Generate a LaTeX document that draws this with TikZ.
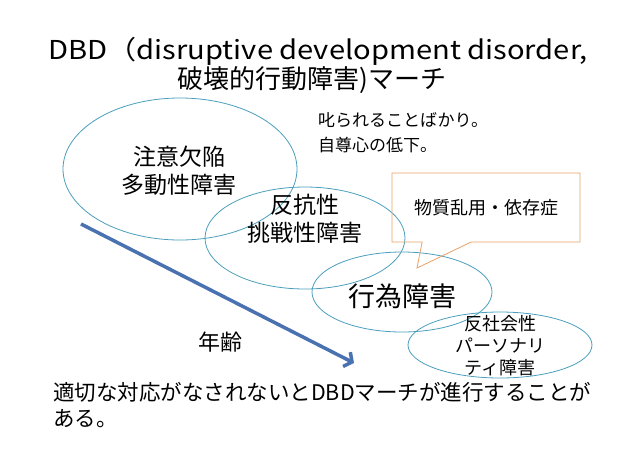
\documentclass[tikz,border=0pt]{standalone}
\usepackage{fontspec}
\setmainfont{Noto Sans CJK JP}
\usepackage{xcolor}
\usepackage{tikz}
\usetikzlibrary{arrows.meta,positioning,calc,shapes.geometric,shapes.callouts}
\definecolor{ringline}{RGB}{75,158,188}
\definecolor{bubbleline}{RGB}{232,162,102}
\definecolor{agearrow}{RGB}{74,114,176}
\newcommand{\fsz}[1]{\fontsize{#1}{1.22\dimexpr #1pt\relax}\selectfont}

\begin{document}
\begin{tikzpicture}[x=1pt,y=-1pt,
  disorder/.style={ellipse,draw=ringline,line width=0.8pt,inner sep=0pt},
  dlabel/.style={align=center,inner sep=0pt}]
\useasboundingbox (0,0) rectangle (638,451);
% title
\node[anchor=base,inner sep=0pt] (title1) at (318,59)
  {\fsz{26}\scalebox{1.12}[1]{DBD（disruptive development disorder,}};
\node[anchor=base,inner sep=0pt] (title2) at (312,88) {\fsz{26}破壊的行動障害)マーチ};
% disorder rings
\node[disorder,minimum width=234pt,minimum height=142pt] (adhd) at (180,169) {};
\node[disorder,minimum width=200pt,minimum height=102pt] (odd) at (305,238) {};
\node[disorder,minimum width=180pt,minimum height=80pt] (cd) at (402,292) {};
\node[disorder,minimum width=184pt,minimum height=66pt] (apd) at (500,345) {};
\node[dlabel,font=\fsz{23}] (adhdtxt) at (179,171) {注意欠陥\\多動性障害};
\node[dlabel,font=\fsz{23}] (oddtxt) at (305,219) {反抗性\\挑戦性障害};
\node[dlabel,font=\fsz{27}] (cdtxt) at (402,296) {行為障害};
\node[dlabel,font=\fsz{18}] (apdtxt) at (500,346) {反社会性\\パーソナリ\\ティ障害};
% side notes (base = last line)
\node[anchor=base west,align=left,inner sep=0pt,font=\fontsize{17}{25}\selectfont] (scold) at (318,151.5)
  {叱られることばかり。\\自尊心の低下。};
\coordinate (subtip) at (417,268);
\node[rectangle callout,draw=bubbleline,line width=0.8pt,minimum width=188pt,minimum height=69pt,
  callout absolute pointer={(subtip)},callout pointer width=49pt,font=\fsz{18}] (subst) at (486,207.5)
  {物質乱用・依存症};
% age arrow
\coordinate (agefrom) at (81,224);
\coordinate (ageto) at (354,363);
\draw[agearrow,line width=3.5pt,-{Straight Barb[length=6pt,width=16pt]}] (agefrom) -- (ageto);
\node[inner sep=0pt,font=\fsz{22}] (age) at (220,342) {年齢};
% bottom remark
\node[anchor=base west,align=left,inner sep=0pt,font=\fontsize{21.5}{26}\selectfont] (remark) at (53,426)
  {適切な対応がなされないとDBDマーチが進行することが\\ある。};
\end{tikzpicture}
\end{document}
